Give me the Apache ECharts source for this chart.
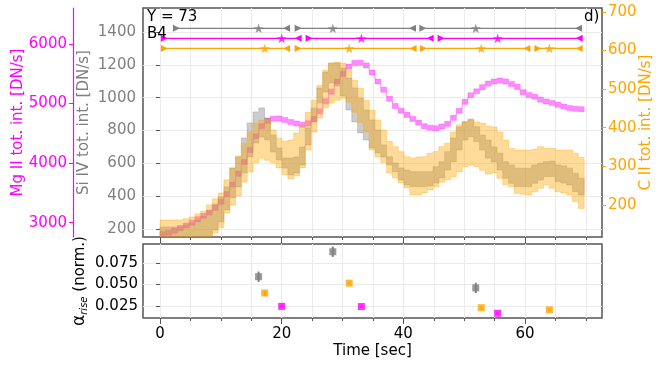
<!DOCTYPE html>
<html>
<head>
<meta charset="utf-8">
<script src="https://cdn.jsdelivr.net/npm/echarts@6/dist/echarts.min.js"></script>
<style>
  html, body { margin: 0; padding: 0; background: #fff; }
  #chart { width: 664px; height: 366px; }
</style>
</head>
<body>
<div id="chart"></div>
<script>
// sampling cadence of the light curves [sec], first sample at t = 0
const DT = 0.955;

// Mg II total intensity [DN/s] (left outer axis)
const mgII = [2810,2832,2866,2910,2955,3000,3060,3115,3170,3250,3350,3480,3640,3820,4020,4220,4450,4620,4710,4745,
  4750,4725,4690,4665,4645,4670,4740,4870,5040,5200,5370,5500,5620,5680,5686,5640,5520,5370,5230,5080,
  4960,4880,4810,4740,4680,4620,4595,4585,4615,4660,4760,4880,5030,5140,5205,5275,5335,5370,5385,5370,
  5330,5280,5190,5145,5115,5065,5035,5008,4978,4950,4925,4912,4905];
const mgIIErr = 42;

// Si IV total intensity band [DN/s] (left inner axis)
const siIVLo = [150,150,150,150,150,150,150,150,150,194,243,316,390,456,541,638,724,760,742,669,
  620,571,529,541,590,712,852,967,1034,1089,1071,1010,925,852,785,742,693,663,638,590,
  549,498,468,458,458,458,462,480,511,559,610,681,742,762,732,681,632,608,559,509,
  478,458,458,458,478,498,519,519,488,480,468,427,407];
const siIVHi = [212,212,212,212,224,237,255,279,310,352,395,456,571,638,754,846,913,937,876,773,
  693,632,632,638,699,815,937,1059,1156,1211,1211,1180,1119,1059,998,925,864,803,712,640,
  602,571,559,549,549,549,549,579,610,671,754,821,853,870,823,772,742,699,661,610,
  590,570,570,570,590,600,610,614,590,584,570,539,509];

// C II total intensity band [DN/s] (right axis)
const cIILo = [115,115,115,115,115,115,115,115,115,128,141,179,200,223,259,285,309,321,316,309,
  296,278,267,275,296,342,389,425,451,464,471,476,466,440,414,389,342,324,309,283,
  270,257,244,226,226,231,239,247,259,265,273,286,299,303,299,290,280,283,269,252,
  247,230,228,226,234,243,252,243,234,231,226,209,191];
const cIIHi = [161,161,161,161,164,169,177,184,200,216,231,265,296,327,360,389,412,420,420,394,
  373,365,368,386,407,440,471,510,549,567,570,567,549,523,502,471,445,420,394,364,
  351,338,325,321,324,325,334,338,351,360,389,407,415,420,415,412,404,402,389,368,
  346,342,342,342,344,351,347,347,342,342,342,334,323];

// rise intervals [start, end] and peak times [sec]
const segSiIV = [[2.7, 20.8], [22.7, 41.5], [43.2, 68.8]];
const segMgII = [[0.7, 22.7], [24.5, 44.4], [46.2, 68.9]];
const segCII = [[0.7, 20.8], [22.7, 41.6], [43.3, 60.3], [62.1, 68.9]];
const peakSiIV = [16.2, 28.4, 51.9];
const peakMgII = [20.0, 33.1, 55.5];
const peakCII = [17.2, 31.1, 52.8, 64.0];

// rise rate alpha (norm.) at the peaks, with errors
const alphaSiIV = [0.059, 0.088, 0.046];
const alphaSiIVErr = [0.006, 0.006, 0.006];
const alphaMgII = [0.0245, 0.0243, 0.0165];
const alphaMgIIErr = [0.001, 0.001, 0.001];
const alphaCII = [0.040, 0.0515, 0.023, 0.0205];
const alphaCIIErr = [0.003, 0.0015, 0.0015, 0.0015];

// level of the interval rows, on the Si IV scale
const rowSiIV = 1422, rowMgII = 1361, rowCII = 1300;

// tick labels
const xMajor = [0, 20, 40, 60];
const xMinor = [5, 10, 15, 25, 30, 35, 45, 50, 55, 65, 70];
const siIVTicks = [200, 400, 600, 800, 1000, 1200, 1400];
const mgIITicks = [3000, 4000, 5000, 6000];
const cIITicks = [200, 300, 400, 500, 600, 700];
const alphaTicks = [0.025, 0.050, 0.075];

const GRAY = '#808080', MAG = '#ff00ff', ORA = '#ffa500';
const FONT = 'DejaVu Sans';
const GRIDC = '#ebebeb';

const chart = echarts.init(document.getElementById('chart'));

function band(lo, hi, yAxisIndex, fill, stroke, z) {
  return {
    type: 'custom', xAxisIndex: 0, yAxisIndex: yAxisIndex, z: z, clip: true, silent: true,
    data: [[0, hi[0]]],
    renderItem: function (params, api) {
      const up = [], down = [];
      for (let i = 0; i < lo.length; i++) {
        const t0 = i * DT, t1 = (i + 1) * DT;
        up.push(api.coord([t0, hi[i]]), api.coord([t1, hi[i]]));
        down.push(api.coord([t0, lo[i]]), api.coord([t1, lo[i]]));
      }
      return {
        type: 'polygon',
        shape: { points: up.concat(down.reverse()) },
        style: { fill: fill, stroke: stroke, lineWidth: 1 }
      };
    }
  };
}

const STAR = 'path://M0,-10L2.35,-3.24L9.51,-3.09L3.8,1.24L5.88,8.09L0,4L-5.88,8.09L-3.8,1.24L-9.51,-3.09L-2.35,-3.24Z';

function rows(segs, peaks, y, color) {
  const out = segs.map(function (s) {
    return {
      type: 'line', xAxisIndex: 0, yAxisIndex: 0, z: 5, silent: true,
      lineStyle: { color: color, width: 1.2 },
      itemStyle: { color: color },
      symbol: 'triangle', symbolSize: 7, showAllSymbol: true,
      data: [
        { value: [s[0], y], symbolRotate: -90 },
        { value: [s[1], y], symbolRotate: 90 }
      ]
    };
  });
  out.push({
    type: 'scatter', xAxisIndex: 0, yAxisIndex: 0, z: 6, silent: true,
    symbol: STAR, symbolSize: 10, symbolKeepAspect: true,
    itemStyle: { color: color },
    data: peaks.map(function (t) { return [t, y]; })
  });
  return out;
}

function alphaPoints(ts, vals, errs, color) {
  const data = ts.map(function (t, i) { return [t, vals[i], errs[i]]; });
  return [{
    type: 'custom', xAxisIndex: 1, yAxisIndex: 3, z: 4, silent: true,
    data: data,
    renderItem: function (params, api) {
      const t = api.value(0), v = api.value(1), e = api.value(2);
      const a = api.coord([t, v - e]), b = api.coord([t, v + e]);
      return {
        type: 'line', shape: { x1: a[0], y1: a[1], x2: b[0], y2: b[1] },
        style: { stroke: color, lineWidth: 2 }
      };
    }
  }, {
    type: 'scatter', xAxisIndex: 1, yAxisIndex: 3, z: 5, silent: true,
    symbol: 'rect', symbolSize: 7, itemStyle: { color: color },
    data: data.map(function (d) { return [d[0], d[1]]; })
  }];
}

const X_MIN = -2.8, X_MAX = 72.65;
const plain = function (v) { return String(v); };

function xAxis(gridIndex, major, labels, name) {
  return {
    type: 'value', gridIndex: gridIndex, min: X_MIN, max: X_MAX,
    axisLine: { show: false },
    axisTick: { show: true, inside: false, length: major ? 6 : 3,
      lineStyle: { color: '#555', width: 1 }, customValues: major ? xMajor : xMinor },
    axisLabel: { show: labels, customValues: xMajor, margin: 9, color: '#000', fontFamily: FONT, fontSize: 15, formatter: plain },
    splitLine: { show: true, lineStyle: { color: GRIDC, width: 1 } },
    name: name || '', nameLocation: 'middle', nameGap: 26, nameMoveOverlap: false,
    nameTextStyle: { color: '#000', fontFamily: FONT, fontSize: 15 }
  };
}

const gridBox = function (top, height, show) {
  return { left: 143, right: 62, top: top, height: height, show: show, outerBoundsMode: 'none', containLabel: false,
    borderColor: '#555', borderWidth: 1.5, backgroundColor: 'transparent' };
};

const option = {
  animation: false,
  backgroundColor: '#fff',
  grid: [gridBox(8, 229, true), gridBox(244, 74, true), gridBox(8, 229, false), gridBox(244, 74, false)],
  xAxis: [
    xAxis(0, true, false),
    xAxis(1, true, true, 'Time [sec]'),
    xAxis(2, false, false),
    xAxis(3, false, false)
  ],
  yAxis: [
    { // Si IV
      type: 'value', gridIndex: 0, position: 'left', min: 151, max: 1546,
      axisLine: { show: false },
      axisTick: { show: true, length: 4, customValues: siIVTicks, lineStyle: { color: '#555' } },
      axisLabel: { customValues: siIVTicks, margin: 7, color: GRAY, fontFamily: FONT, fontSize: 15, formatter: plain },
      splitLine: { show: true, lineStyle: { color: GRIDC } },
      name: 'Si IV tot. int. [DN/s]', nameLocation: 'middle', nameGap: 51, nameMoveOverlap: false,
      nameTextStyle: { color: GRAY, fontFamily: FONT, fontSize: 15 }
    },
    { // Mg II
      type: 'value', gridIndex: 0, position: 'left', offset: 70, min: 2760, max: 6604,
      axisLine: { show: true, lineStyle: { color: MAG, width: 1.2 } },
      axisTick: { show: true, length: 4, customValues: mgIITicks, lineStyle: { color: MAG } },
      axisLabel: { customValues: mgIITicks, margin: 6, color: MAG, fontFamily: FONT, fontSize: 15, formatter: plain },
      splitLine: { show: false },
      name: 'Mg II tot. int. [DN/s]', nameLocation: 'middle', nameGap: 47, nameMoveOverlap: false,
      nameTextStyle: { color: MAG, fontFamily: FONT, fontSize: 15 }
    },
    { // C II
      type: 'value', gridIndex: 0, position: 'right', min: 117, max: 710,
      axisLine: { show: false },
      axisTick: { show: true, length: 4, customValues: cIITicks, lineStyle: { color: ORA } },
      axisLabel: { customValues: cIITicks, margin: 6, color: ORA, fontFamily: FONT, fontSize: 15, formatter: plain },
      splitLine: { show: false },
      name: 'C II tot. int. [DN/s]', nameLocation: 'middle', nameGap: 37, nameMoveOverlap: false,
      nameTextStyle: { color: ORA, fontFamily: FONT, fontSize: 15 }
    },
    { // alpha rise
      type: 'value', gridIndex: 1, position: 'left', min: 0.011, max: 0.097,
      axisLine: { show: false },
      axisTick: { show: true, length: 4, customValues: alphaTicks, lineStyle: { color: '#555' } },
      axisLabel: { customValues: alphaTicks, margin: 5, color: '#000', fontFamily: FONT, fontSize: 15,
        formatter: function (v) { return v.toFixed(3); } },
      splitLine: { show: true, lineStyle: { color: GRIDC } },
      name: '{a|α}{s|rise} (norm.)', nameLocation: 'middle', nameGap: 54, nameMoveOverlap: false,
      nameTextStyle: { color: '#000', fontFamily: FONT, fontSize: 15,
        rich: { a: { fontFamily: FONT, fontSize: 17 }, s: { fontFamily: FONT, fontSize: 10, fontStyle: 'italic', padding: [8, 0, 0, 0] } } }
    },
    { type: 'value', gridIndex: 2, min: 0, max: 1, show: false },
    { type: 'value', gridIndex: 3, min: 0, max: 1, show: false }
  ],
  graphic: [
    { type: 'text', left: 147, top: 10, style: { text: 'Y = 73', fontFamily: FONT, fontSize: 15, fill: '#000' }, z: 10 },
    { type: 'text', left: 147, top: 27, style: { text: 'B4', fontFamily: FONT, fontSize: 15, fill: '#000' }, z: 10 },
    { type: 'text', left: 584, top: 10, style: { text: 'd)', fontFamily: FONT, fontSize: 15, fill: '#000' }, z: 10 }
  ],
  series: [].concat(
    band(mgII.map(function (v) { return v - mgIIErr; }), mgII.map(function (v) { return v + mgIIErr; }), 1,
      'rgba(255,0,255,0.45)', 'rgba(255,0,255,0.25)', 2),
    band(siIVLo, siIVHi, 0, 'rgba(128,128,128,0.4)', 'rgba(128,128,128,0.3)', 2),
    band(cIILo, cIIHi, 2, 'rgba(255,165,0,0.4)', 'rgba(255,165,0,0.35)', 2),
    rows(segSiIV, peakSiIV, rowSiIV, GRAY),
    rows(segMgII, peakMgII, rowMgII, MAG),
    rows(segCII, peakCII, rowCII, ORA),
    alphaPoints(peakSiIV, alphaSiIV, alphaSiIVErr, GRAY),
    alphaPoints(peakCII, alphaCII, alphaCIIErr, ORA),
    alphaPoints(peakMgII, alphaMgII, alphaMgIIErr, MAG)
  )
};

chart.setOption(option);
</script>
</body>
</html>
